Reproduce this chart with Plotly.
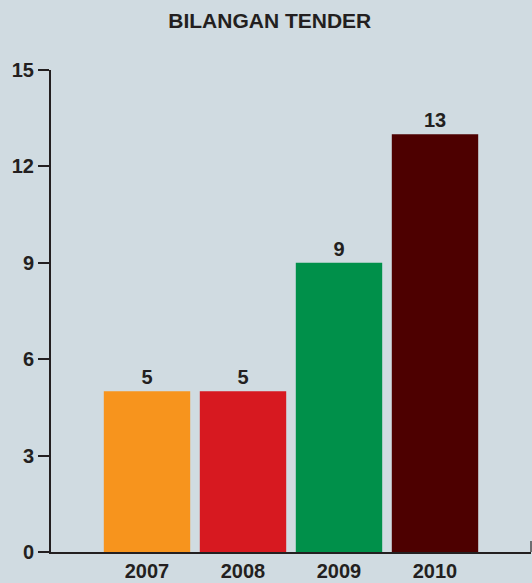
import plotly.graph_objects as go

years = ["2007", "2008", "2009", "2010"]
tenders = [5, 5, 9, 13]
bar_colors = ["#f7941d", "#d71920", "#00904a", "#4d0000"]
y_ticks = [0, 3, 6, 9, 12, 15]

BG = "#d0dbe1"
INK = "#231f20"
FONT = "Liberation Sans, Arial, sans-serif"
NARROW = "Liberation Sans Narrow, Arial Narrow, Liberation Sans, sans-serif"

fig = go.Figure(
    go.Bar(
        x=list(range(len(years))),
        y=tenders,
        width=0.9,
        marker=dict(color=bar_colors, line=dict(width=0)),
        text=[f"<b>{v}</b>" for v in tenders],
        textposition="outside",
        textfont=dict(family=NARROW, size=20, color=INK),
        cliponaxis=False,
    )
)

fig.update_layout(
    width=532,
    height=583,
    paper_bgcolor=BG,
    plot_bgcolor=BG,
    margin=dict(l=51, r=1, t=70, b=31, autoexpand=False),
    showlegend=False,
    title=dict(
        text="<b>BILANGAN TENDER</b>",
        x=0.507,
        xanchor="center",
        y=0.965,
        yanchor="middle",
        font=dict(family=FONT, size=21, color=INK),
    ),
    font=dict(family=FONT, color=INK),
)

fig.update_xaxes(
    range=[-1, 4],
    tickvals=list(range(len(years))),
    ticktext=[f"<b>{y}</b>" for y in years],
    tickfont=dict(family=NARROW, size=20, color=INK),
    showline=True,
    linecolor=INK,
    linewidth=2,
    ticks="",
    showgrid=False,
    zeroline=False,
)

fig.update_yaxes(
    range=[0, 15],
    tickvals=y_ticks,
    ticktext=[f"<b>{t}</b>" for t in y_ticks],
    tickfont=dict(family=NARROW, size=20, color=INK),
    showline=True,
    linecolor=INK,
    linewidth=2,
    ticks="outside",
    ticklen=11,
    tickwidth=2,
    tickcolor=INK,
    showgrid=False,
    zeroline=False,
)

fig.add_shape(
    type="line", xref="paper", yref="paper",
    x0=1, x1=1, y0=0, y1=0.023,
    line=dict(color="#6d6e71", width=2),
)

fig.write_html(
    "out.html",
    config={"displayModeBar": False},
    post_script="document.body.style.margin='0';document.body.style.background='" + BG + "';",
)
